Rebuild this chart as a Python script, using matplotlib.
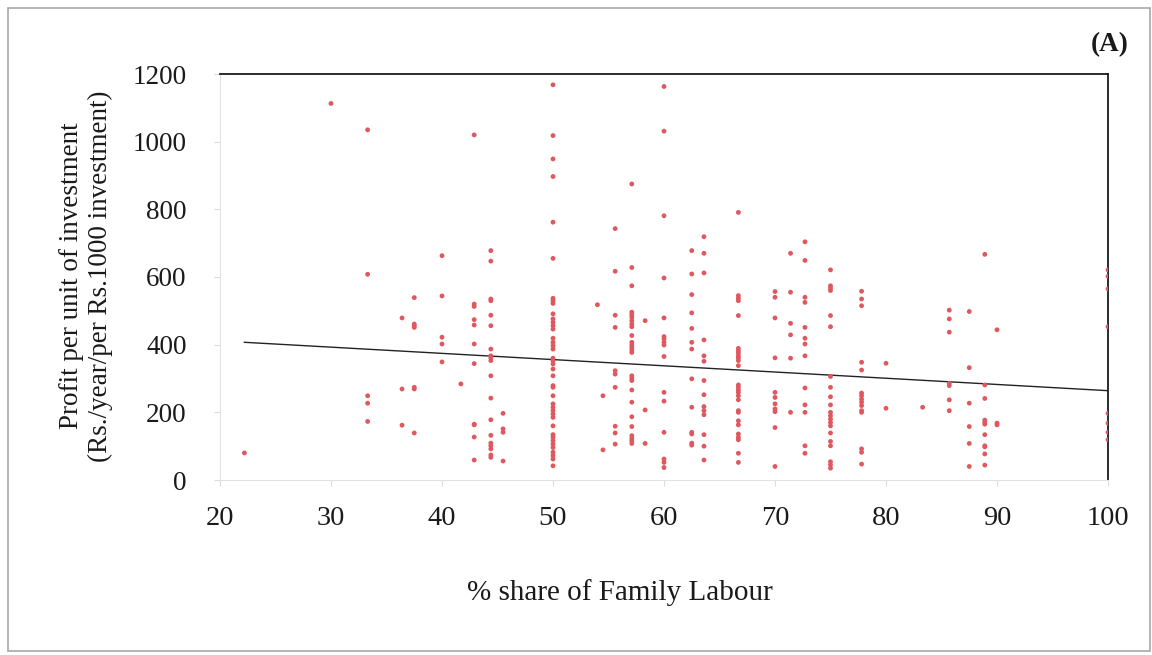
import matplotlib

matplotlib.use("Agg")
import matplotlib.pyplot as plt
from matplotlib.patches import Rectangle

# share of family labour (%) for each column of points
share_levels = [
    22.2, 30, 33.3, 36.4, 37.5, 40, 41.7, 42.9, 44.4, 45.5, 50, 54.0, 54.5,
    55.6, 57.1, 58.3, 60, 62.5, 63.6, 66.7, 70, 71.4, 72.7, 75, 77.8, 80,
    83.3, 85.7, 87.5, 88.9, 90, 100,
]

# profit per unit of investment observed at each share level
profit_by_share = [
    [80],
    [1113],
    [1035, 608, 249, 227, 173],
    [479, 269, 162],
    [539, 461, 456, 451, 274, 269, 139],
    [663, 544, 422, 402, 349],
    [284],
    [1020, 520, 513, 474, 458, 402, 344, 165, 163, 127, 59],
    [678, 647, 535, 530, 487, 456, 387, 367, 361, 353, 308, 242, 178, 132,
     109, 101, 92, 74, 67],
    [197, 151, 141, 56],
    [1168, 1018, 949, 897, 762, 655, 537, 530, 522, 491, 476, 466, 456, 446,
     419, 407, 397, 387, 360, 353, 343, 328, 308, 279, 274, 249, 225, 215,
     205, 195, 185, 160, 134, 126, 116, 106, 96, 82, 72, 62, 42],
    [518],
    [249, 89],
    [743, 617, 487, 451, 323, 313, 274, 159, 139, 106],
    [875, 628, 574, 496, 489, 481, 471, 461, 453, 427, 407, 399, 392, 384,
     377, 308, 301, 294, 266, 230, 187, 158, 131, 123, 116, 108],
    [471, 207, 108],
    [1163, 1031, 781, 597, 479, 424, 417, 407, 399, 365, 259, 233, 141, 62,
     52, 37],
    [678, 609, 548, 494, 448, 407, 387, 299, 215, 141, 136, 109, 103],
    [719, 670, 612, 414, 367, 351, 294, 252, 217, 205, 193, 134, 100, 59],
    [791, 545, 537, 530, 486, 389, 382, 375, 367, 361, 353, 338, 281, 274,
     266, 259, 249, 237, 205, 200, 175, 163, 136, 126, 119, 79, 52],
    [557, 540, 479, 361, 259, 244, 225, 210, 202, 155, 40],
    [670, 555, 463, 429, 360, 200],
    [704, 649, 540, 525, 451, 419, 402, 367, 272, 222, 200, 101, 79],
    [621, 574, 567, 560, 486, 453, 306, 274, 246, 222, 200, 190, 180, 170,
     160, 139, 114, 101, 54, 45, 35],
    [558, 535, 515, 348, 325, 257, 249, 239, 230, 220, 205, 200, 92, 82, 47],
    [345, 212],
    [215],
    [502, 476, 437, 286, 279, 237, 205],
    [498, 332, 227, 158, 108, 40],
    [667, 281, 241, 177, 170, 165, 134, 101, 98, 77, 44],
    [444, 168, 163],
    [621, 602, 565, 453, 197, 168, 141, 119],
]

# linear trend line end points
trend_x = [22.2, 100]
trend_y = [407, 264]

x_ticks = [20, 30, 40, 50, 60, 70, 80, 90, 100]
y_ticks = [0, 200, 400, 600, 800, 1000, 1200]

plt.rcParams["font.family"] = ["Liberation Serif", "DejaVu Serif"]

fig = plt.figure(figsize=(11.52, 6.55), dpi=100)
fig.patch.set_facecolor("white")
fig.patches.append(
    Rectangle((8 / 1152, 4 / 655), 1142 / 1152, 643 / 655, transform=fig.transFigure,
              fill=False, edgecolor="#a8a8a8", linewidth=1.2)
)

ax = fig.add_axes([220 / 1152, 175 / 655, 888 / 1152, 406 / 655])

xs = []
ys = []
for share, profits in zip(share_levels, profit_by_share):
    for value in profits:
        xs.append(share)
        ys.append(value)

ax.scatter(xs, ys, s=12, color="#e0585f", edgecolors="none", zorder=3)
ax.plot(trend_x, trend_y, color="#222222", linewidth=1.0, zorder=2)

ax.set_xlim(20, 100)
ax.set_ylim(0, 1200)
ax.set_xticks(x_ticks)
ax.set_yticks(y_ticks)

for side in ("top", "right"):
    ax.spines[side].set_color("#1a1a1a")
    ax.spines[side].set_linewidth(1.3)
for side in ("left", "bottom"):
    ax.spines[side].set_color("#e2e2e2")
    ax.spines[side].set_linewidth(0.8)

ax.tick_params(axis="y", colors="#dcdcdc", length=4, width=0.8, pad=20,
               labelcolor="#1a1a1a", labelsize=19.5)
ax.tick_params(axis="x", colors="#dcdcdc", length=4, width=0.8, pad=15,
               labelcolor="#1a1a1a", labelsize=20.5)

fig.text(620 / 1152, 1 - 593 / 655, "% share of Family Labour", ha="center",
         va="center", fontsize=21, color="#1a1a1a")
fig.text(86 / 1152, 1 - 276 / 655,
         "Profit per unit of investment\n(Rs./year/per Rs.1000 investment)",
         rotation=90, ha="center", va="center", multialignment="center",
         fontsize=19.5, color="#1a1a1a", linespacing=1.2)
fig.text(1110 / 1152, 1 - 45 / 655, "(A)", ha="center", va="center",
         fontsize=19.5, fontweight="bold", color="#1a1a1a")

fig.savefig("out.png", dpi=100, facecolor="white")
